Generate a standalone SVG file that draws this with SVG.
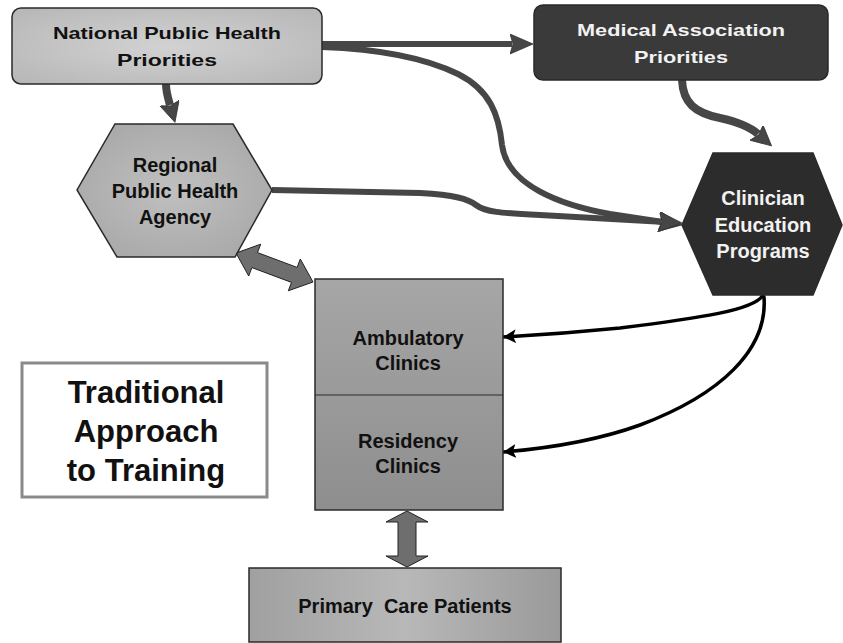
<svg xmlns="http://www.w3.org/2000/svg" width="843" height="643" viewBox="0 0 843 643">
<style>
.t{font-family:"Liberation Sans",Arial,sans-serif;font-weight:bold;text-anchor:middle}
.dk{fill:#111}
.wt{fill:#f2f2f2}
.node{stroke:#2a2a2a;stroke-width:1.5}
.gc{fill:none;stroke:#464646;stroke-linecap:butt;stroke-linejoin:round}
.bc{fill:none;stroke:#000;stroke-width:3.5;stroke-linecap:round}
.dbl{fill:#6e6e6e;stroke:#222;stroke-width:1}
</style>
<defs>
<radialGradient id="gLight" cx="0.5" cy="0.5" r="0.7"><stop offset="0" stop-color="#d2d2d2"/><stop offset="1" stop-color="#b6b6b6"/></radialGradient>
<radialGradient id="gMid" cx="0.5" cy="0.5" r="0.7"><stop offset="0" stop-color="#c0c0c0"/><stop offset="1" stop-color="#a4a4a4"/></radialGradient>
<linearGradient id="gClin" x1="0" y1="0" x2="0" y2="1"><stop offset="0" stop-color="#a6a6a6"/><stop offset="1" stop-color="#8e8e8e"/></linearGradient>
<linearGradient id="gPrim" x1="0" y1="0" x2="1" y2="0"><stop offset="0" stop-color="#a0a0a0"/><stop offset="0.5" stop-color="#b8b8b8"/><stop offset="1" stop-color="#9a9a9a"/></linearGradient>
<marker id="hg" markerUnits="userSpaceOnUse" markerWidth="26" markerHeight="22" refX="2" refY="10" orient="auto" viewBox="0 0 26 22"><path d="M0,0 L23,10 L0,20 L3,10 Z" fill="#464646" stroke="#333" stroke-width="0.8"/></marker>
<marker id="hgs" markerUnits="userSpaceOnUse" markerWidth="24" markerHeight="22" refX="2" refY="10" orient="auto" viewBox="0 0 24 22"><path d="M0,0 L20,10 L0,20 L3,10 Z" fill="#464646" stroke="#333" stroke-width="0.8"/></marker>
<marker id="hb" markerUnits="userSpaceOnUse" markerWidth="16" markerHeight="16" refX="13" refY="7" orient="auto" viewBox="0 0 16 16"><path d="M0,0 L13,7 L0,14 L3,7 Z" fill="#000"/></marker>
</defs>

<g id="connectors">
<path class="gc" stroke-width="6" d="M322,44 L512,44" marker-end="url(#hg)"/>
<path class="gc" stroke-width="6" d="M322,47 C380,49 425,58 458,74 C490,90 499,115 502,145 C507,185 560,205 610,214 L661,221.8" marker-end="url(#hg)"/>
<path class="gc" stroke-width="6" d="M272,190 L420,193 C455,195 468,199 476,205 C485,212 500,213 540,215 L661,221.8" marker-end="url(#hg)"/>
<path class="gc" stroke-width="8" d="M166,84 C166,92 168,98 170,105" marker-end="url(#hgs)"/>
<path class="gc" stroke-width="8" d="M682,80 C683,103 695,113 720,118 C738,122 750,127 758,134" marker-end="url(#hgs)"/>
<path class="bc" d="M763,295 C755,310 700,318 620,328 C580,332 540,335 503,337" marker-end="url(#hb)"/>
<path class="bc" d="M764,297 C768,350 720,395 640,425 C590,443 540,449 503,452" marker-end="url(#hb)"/>
<polygon class="dbl" points="236,253 248.7,276 251.9,267.6 291.5,282.4 288.3,290.8 313,282 300.3,259 297.1,267.4 257.5,252.6 260.7,244.2"/>
<polygon class="dbl" points="407,511 428,522 416,522 416,556 428,556 407,567 386,556 398,556 398,522 386,522"/>
</g>

<g id="national">
<rect class="node" x="12" y="8" width="310" height="76" rx="9" fill="url(#gLight)"/>
<text class="t dk" x="167" y="39" font-size="17" textLength="228" lengthAdjust="spacingAndGlyphs">National Public Health</text>
<text class="t dk" x="167" y="66" font-size="17" textLength="100" lengthAdjust="spacingAndGlyphs">Priorities</text>
</g>

<g id="medical">
<rect class="node" x="534" y="5" width="294" height="75" rx="9" fill="#3a3a3a"/>
<text class="t wt" x="681" y="36" font-size="17" textLength="208" lengthAdjust="spacingAndGlyphs">Medical Association</text>
<text class="t wt" x="681" y="63" font-size="17" textLength="94" lengthAdjust="spacingAndGlyphs">Priorities</text>
</g>

<g id="regional">
<polygon class="node" points="115,124 233,124 272,190 235,257 117,257 77,190" fill="url(#gMid)"/>
<text class="t dk" x="175" y="172" font-size="20">Regional</text>
<text class="t dk" x="175" y="198" font-size="20">Public Health</text>
<text class="t dk" x="175" y="224" font-size="20">Agency</text>
</g>

<g id="clinician">
<polygon class="node" points="713,153 813,153 842,225 813,295 713,295 682,225" fill="#2c2c2c"/>
<text class="t wt" x="763" y="205" font-size="20">Clinician</text>
<text class="t wt" x="763" y="232" font-size="20">Education</text>
<text class="t wt" x="763" y="258" font-size="20">Programs</text>
</g>

<g id="clinics">
<rect class="node" x="315" y="279" width="188" height="231" fill="url(#gClin)"/>
<line x1="315" y1="395" x2="503" y2="395" stroke="#2a2a2a" stroke-width="1.2"/>
</g>

<g id="ambulatory">
<text class="t dk" x="408" y="345" font-size="20">Ambulatory</text>
<text class="t dk" x="408" y="370" font-size="20">Clinics</text>
</g>

<g id="residency">
<text class="t dk" x="408" y="448" font-size="20">Residency</text>
<text class="t dk" x="408" y="473" font-size="20">Clinics</text>
</g>

<g id="primary">
<rect class="node" x="249" y="568" width="312" height="74" fill="url(#gPrim)"/>
<text class="t dk" x="405" y="613" font-size="20">Primary&#160; Care Patients</text>
</g>

<g id="title">
<rect x="22" y="363" width="245" height="134" fill="#fff" stroke="#8a8a8a" stroke-width="3"/>
<text class="t dk" x="146" y="403" font-size="31">Traditional</text>
<text class="t dk" x="146" y="442" font-size="31">Approach</text>
<text class="t dk" x="146" y="481" font-size="31">to Training</text>
</g>
</svg>
